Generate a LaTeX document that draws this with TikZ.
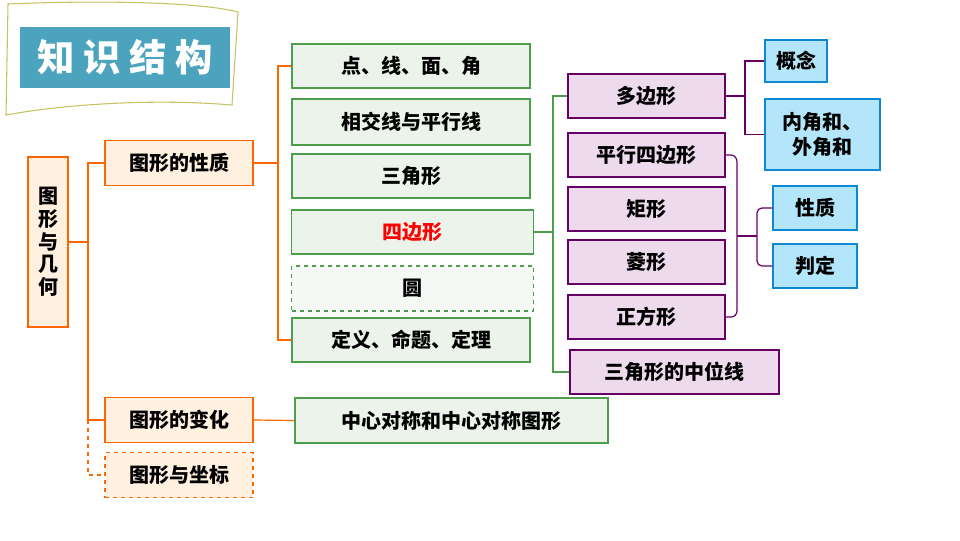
\documentclass[tikz,border=0pt]{standalone}
\usepackage{fontspec}
\setmainfont{Noto Sans CJK SC}
\definecolor{titleteal}{RGB}{75,163,189}
\begin{document}
\begin{tikzpicture}[x=0.75pt,y=-0.75pt,
		box/.style={draw,line width=0.9pt,inner sep=0pt,font=\fontsize{15}{19}\selectfont\bfseries},
		orange_box/.style={box,draw=orange!80!red,fill=orange!12},
		green_box/.style={box,draw=green!45!black!70,fill=green!40!black!8},
		purple_box/.style={box,draw=violet!80!black,fill=violet!14},
		blue_box/.style={box,draw=cyan!70!blue,fill=cyan!30},
		orange_edge/.style={draw=orange!80!red,line width=0.9pt},
		green_edge/.style={draw=green!45!black!70,line width=0.9pt},
		purple_edge/.style={draw=violet!80!black,line width=0.9pt}]
		\useasboundingbox (0,0) rectangle (960,540);
		\fill[white] (0,0) rectangle (960,540);

		% title
		\draw[olive!50,fill=white,line width=0.8pt] (8,4) .. controls (100,0) and (200,2) .. (238,12)
			-- (232,105) .. controls (150,98) and (60,105) .. (6,115) -- cycle;
		\node[fill=titleteal,text=white,minimum width=157.5pt,minimum height=45.75pt,inner sep=0pt,
			font=\fontsize{28}{30}\selectfont\bfseries] (title) at (125,57.5) {知 识 结 构};

		\node[orange_box,minimum width=30pt,minimum height=127.5pt] (root) at (48,242) {\shortstack{图\\形\\与\\几\\何}};
		\node[orange_box,minimum width=111pt,minimum height=33.75pt] (prop) at (179,163) {图形的性质};
		\node[orange_box,minimum width=111pt,minimum height=33.75pt] (change) at (179,420) {图形的变化};
		\node[orange_box,dashed,minimum width=111pt,minimum height=33.75pt] (coord) at (179,475) {图形与坐标};

		\node[green_box,minimum width=178.5pt,minimum height=33pt] (g1) at (411,66) {点、线、面、角};
		\node[green_box,minimum width=178.5pt,minimum height=34.5pt] (g2) at (411,122) {相交线与平行线};
		\node[green_box,minimum width=178.5pt,minimum height=33pt] (g3) at (411,176) {三角形};
		\node[green_box,minimum width=181pt,minimum height=33pt,text=red] (g4) at (412.5,232) {四边形};
		\node[green_box,dashed,fill=green!40!black!4,minimum width=181pt,minimum height=33.75pt] (g5) at (412.5,288.5) {圆};
		\node[green_box,minimum width=178.5pt,minimum height=33pt] (g6) at (411,340) {定义、命题、定理};
		\node[green_box,minimum width=234.75pt,minimum height=33.75pt] (g7) at (451.5,420.5) {中心对称和中心对称图形};

		\node[purple_box,minimum width=117.75pt,minimum height=33pt] (p1) at (646.5,96) {多边形};
		\node[purple_box,minimum width=117.75pt,minimum height=33pt] (p2) at (646.5,155) {平行四边形};
		\node[purple_box,minimum width=117.75pt,minimum height=33pt] (p3) at (646.5,209) {矩形};
		\node[purple_box,minimum width=117.75pt,minimum height=33pt] (p4) at (646.5,262) {菱形};
		\node[purple_box,minimum width=117.75pt,minimum height=33pt] (p5) at (646.5,317) {正方形};
		\node[purple_box,minimum width=156.75pt,minimum height=33pt] (p6) at (674.5,372) {三角形的中位线};

		\node[blue_box,minimum width=46.5pt,minimum height=31.5pt] (b1) at (796,61) {概念};
		\node[blue_box,minimum width=86.25pt,minimum height=53.25pt,align=center] (b2) at (822.5,134.5) {内角和、\\外角和};
		\node[blue_box,minimum width=63pt,minimum height=33pt] (b3) at (815,208) {性质};
		\node[blue_box,minimum width=63pt,minimum height=33pt] (b4) at (815,266) {判定};

		% connectors
		\draw[orange_edge] (root.east) -- (88,242);
		\draw[orange_edge] (prop.west) -| (88,242) |- (change.west);
		\draw[orange_edge,dashed] (88,420) |- (coord.west);
		\draw[orange_edge] (change.east) -- (g7.west);
		\draw[orange_edge] (prop.east) -- (278,163);
		\draw[orange_edge] (g1.west) -| (278,163) |- (g6.west);
		\draw[green_edge] (g4.east) -- (553,232);
		\draw[green_edge] (p1.west) -| (553,232) |- (p6.west);
		\draw[purple_edge] (p1.east) -- (745,96);
		\draw[purple_edge] (b1.west) -| (745,96) |- (b2.west);
		\draw[purple_edge] (p2.east) -- (731,155) to[out=0,in=90] (737,162) -- (737,311)
			to[out=-90,in=0] (731,317) -- (p5.east);
		\draw[purple_edge] (737,236) -- (757,236);
		\draw[purple_edge] (b3.west) -- (762,208) to[out=180,in=90] (757,213) -- (757,261)
			to[out=-90,in=180] (762,266) -- (b4.west);
\end{tikzpicture}
\end{document}
